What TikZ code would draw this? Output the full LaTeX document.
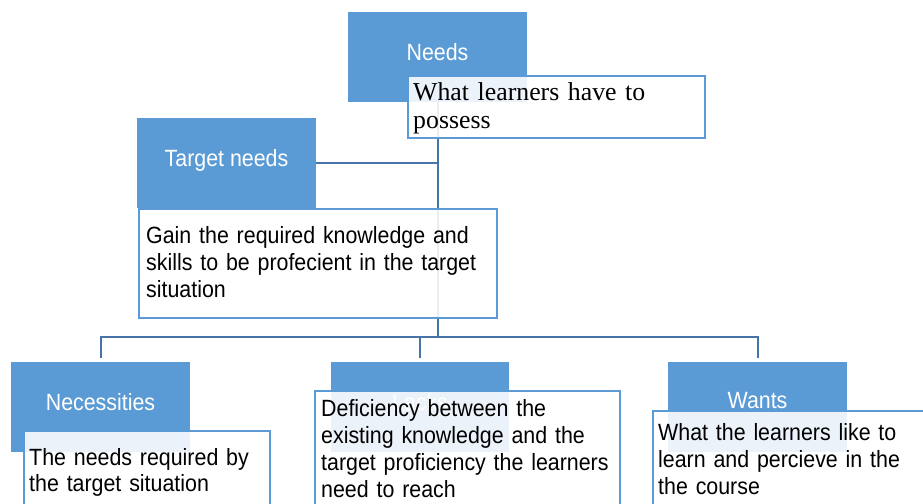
\documentclass[tikz,border=0pt]{standalone}
\usepackage{fontspec}
\setmainfont{Liberation Sans}
\newfontfamily\lsans[FakeStretch=0.91]{Liberation Sans}
\newfontfamily\lserif{Liberation Serif}
\definecolor{boxblue}{HTML}{5B9BD5}
\definecolor{connblue}{HTML}{4674A8}
\tikzset{
  bluebox/.style={fill=boxblue, draw=none, minimum width=179pt, minimum height=90pt, inner sep=0pt, anchor=north west},
  descbox/.style={draw=boxblue, line width=2pt, fill=white, fill opacity=0.88, inner sep=0pt, anchor=north west},
  lbl/.style={text=white, font={\lsans\fontsize{23.5}{27}\selectfont}, anchor=base, inner sep=0pt},
  desc/.style={font={\lsans\fontsize{23.5}{27}\selectfont}, anchor=base west, inner sep=0pt, text width=400pt, align=left},
  descserif/.style={font={\lserif\fontsize{25.8}{28}\selectfont}, anchor=base west, inner sep=0pt, text width=400pt, align=left},
  conn/.style={draw=connblue, line width=2pt}
}
\begin{document}
\begin{tikzpicture}[x=1pt,y=-1pt]
\useasboundingbox (0,0) rectangle (923,503);
\fill[white] (0,0) rectangle (923,503);
\clip (0,0) rectangle (923,503);

% blue title boxes
\node[bluebox] (needs) at (348,12) {};
\node[bluebox] (target) at (137,118) {};
\node[bluebox] (nec) at (11,362) {};
\node[bluebox, minimum width=178pt] (lacks) at (331,362) {};
\node[bluebox] (wants) at (668,362) {};

% connectors
\coordinate (bus) at (0,337);
\draw[conn] (needs.south) -- (needs.south |- bus);
\draw[conn] (target.east) -- (target.east -| needs.south);
\draw[conn, shorten >=4pt] (needs.south |- bus) -| (nec.north);
\draw[conn, shorten >=4pt] (needs.south |- bus) -| (lacks.north);
\draw[conn, shorten >=4pt] (needs.south |- bus) -| (wants.north);

% title labels
\node[lbl] (needsL) at (437.5,60) {Needs};
\node[lbl] (targetL) at (226.5,166) {Target needs};
\node[lbl] (necL) at (100.5,410) {Necessities};
\node[lbl] (lacksL) at (420,410) {Lacks};
\node[lbl] (wantsL) at (757.5,408) {Wants};

% description boxes
\node[descbox, minimum width=297pt, minimum height=62pt] (needsD) at (407,75) {};
\node[descbox, minimum width=358pt, minimum height=109pt] (gainD) at (138,208) {};
\node[descbox, minimum width=246pt, minimum height=120pt] (necD) at (23,430) {};
\node[descbox, minimum width=305pt, minimum height=140pt] (lacksD) at (314,390) {};
\node[descbox, minimum width=300pt, minimum height=130pt] (wantsD) at (652,410) {};

% description texts
\node[descserif] (needsT) at (413,100) {What learners have to\\possess};
\node[desc] (gainT) at (146,243) {Gain the required knowledge and\\skills to be profecient in the target\\situation};
\node[desc, font={\lsans\fontsize{23.5}{26}\selectfont}] (necT) at (29,465) {The needs required by\\the target situation};
\node[desc] (lacksT) at (321,416) {Deficiency between the\\existing knowledge and the\\target proficiency the learners\\need to reach};
\node[desc] (wantsT) at (658,440) {What the learners like to\\learn and percieve in the\\the course};
\end{tikzpicture}
\end{document}
